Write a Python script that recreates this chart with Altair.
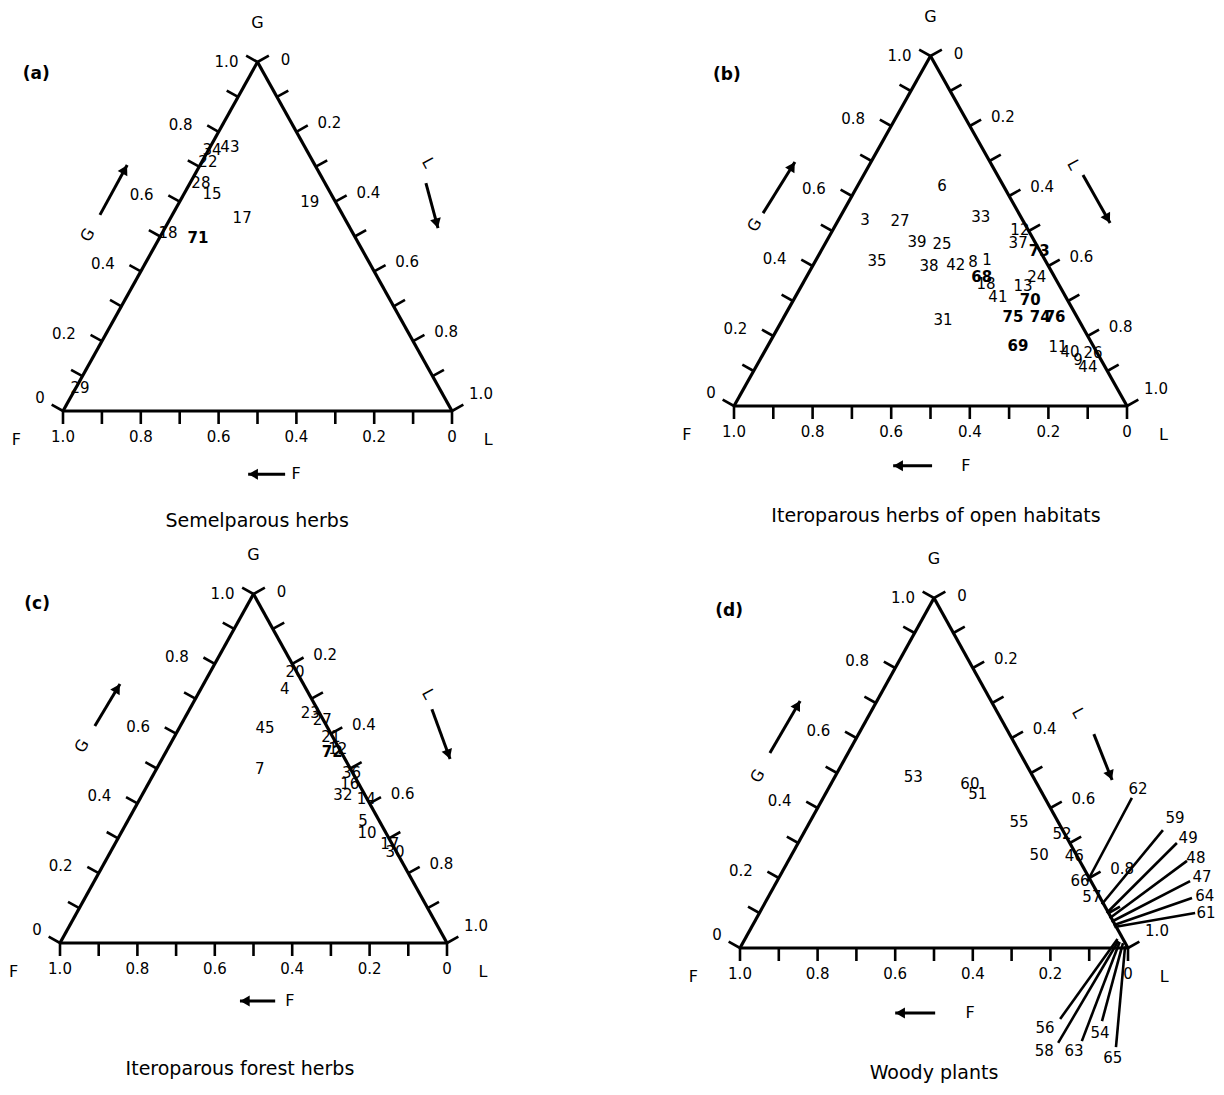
import math
import altair as alt
import pandas as pd

FONT = "DejaVu Sans"
INK = "black"

# ---------------- data (ternary values: G, L; F = 1 - G - L) ----------------
tick_values = [0.0, 0.2, 0.4, 0.6, 0.8, 1.0]
tick_labels = ["0", "0.2", "0.4", "0.6", "0.8", "1.0"]
minor_ticks = [0.0, 0.1, 0.2, 0.3, 0.4, 0.5, 0.6, 0.7, 0.8, 0.9, 1.0]

panel_tags = ["(a)", "(b)", "(c)", "(d)"]
panel_titles = ["Semelparous herbs", "Iteroparous herbs of open habitats",
                "Iteroparous forest herbs", "Woody plants"]

a_labels = ["43", "34", "22", "28", "15", "17", "19", "18", "71", "29"]
a_G = [0.756, 0.748, 0.713, 0.653, 0.622, 0.553, 0.599, 0.510, 0.496, 0.066]
a_L = [0.051, 0.009, 0.016, 0.028, 0.072, 0.184, 0.335, 0.015, 0.099, 0.011]
a_bold = ["71"]

b_labels = ["6", "3", "27", "33", "12", "37", "73", "39", "25", "35", "38", "42", "8", "1",
            "68", "18", "24", "13", "41", "70", "74", "76", "75", "31", "69", "11", "40",
            "26", "9", "44"]
b_G = [0.629, 0.531, 0.529, 0.540, 0.503, 0.466, 0.443, 0.469, 0.463, 0.414, 0.400, 0.403,
       0.411, 0.417, 0.369, 0.349, 0.369, 0.343, 0.311, 0.303, 0.254, 0.254, 0.254, 0.246,
       0.171, 0.169, 0.154, 0.151, 0.131, 0.111]
b_L = [0.215, 0.068, 0.158, 0.358, 0.476, 0.490, 0.555, 0.231, 0.298, 0.157, 0.296, 0.363,
       0.403, 0.435, 0.446, 0.467, 0.586, 0.564, 0.516, 0.602, 0.652, 0.690, 0.583, 0.409,
       0.637, 0.740, 0.778, 0.838, 0.810, 0.845]
b_bold = ["73", "68", "70", "74", "76", "75", "69"]

c_labels = ["20", "4", "23", "27", "21", "72", "12", "45", "7", "36", "16", "32", "14",
            "5", "10", "30", "17"]
c_G = [0.777, 0.728, 0.659, 0.639, 0.590, 0.547, 0.556, 0.616, 0.499, 0.487, 0.456, 0.424,
       0.413, 0.350, 0.315, 0.261, 0.284]
c_L = [0.219, 0.217, 0.317, 0.358, 0.405, 0.430, 0.440, 0.222, 0.267, 0.510, 0.521, 0.519,
       0.585, 0.608, 0.636, 0.735, 0.710]
c_bold = ["72"]

d_labels = ["53", "60", "51", "55", "52", "50", "46", "66", "57"]
d_G = [0.489, 0.469, 0.440, 0.360, 0.326, 0.266, 0.263, 0.191, 0.146]
d_L = [0.202, 0.358, 0.393, 0.539, 0.667, 0.638, 0.730, 0.781, 0.834]
d_bold = []

# points of panel (d) labelled through leader lines
d_lead_labels = ["62", "59", "49", "48", "47", "64", "61", "56", "58", "63", "54", "65"]
d_lead_G = [0.190, 0.125, 0.100, 0.085, 0.075, 0.065, 0.060, 0.026, 0.020, 0.017, 0.014, 0.005]
d_lead_L = [0.800, 0.870, 0.895, 0.910, 0.920, 0.930, 0.935, 0.960, 0.965, 0.970, 0.980, 0.990]

# ---------------- layout (panel units, not data) ----------------
d_lead_anchor = [(1.010, 0.429), (1.090, 0.337), (1.126, 0.300), (1.152, 0.249),
                 (1.160, 0.191), (1.165, 0.143), (1.173, 0.100), (0.825, -0.203),
                 (0.820, -0.271), (0.881, -0.266), (0.933, -0.209), (0.969, -0.283)]
d_lead_text = [(1.026, 0.454), (1.121, 0.371), (1.155, 0.314), (1.175, 0.257),
               (1.191, 0.203), (1.198, 0.149), (1.201, 0.100), (0.786, -0.229),
               (0.784, -0.294), (0.861, -0.294), (0.928, -0.243), (0.961, -0.314)]

GEO = {
    "a": dict(fx=55, fy=403, uw=389, uh=349, pw=600, ph=522),
    "b": dict(fx=126, fy=398, uw=393, uh=350, pw=608, ph=522),
    "c": dict(fx=52, fy=412, uw=387, uh=349, pw=600, ph=550),
    "d": dict(fx=132, fy=417, uw=388, uh=350, pw=608, ph=550),
}
DECOR = {
    "a": dict(tag=(-0.069, 0.966), title=(0.499, -0.315),
              glab=(0.064, 0.504), garr=((0.095, 0.562), (0.165, 0.705)),
              llab=(0.938, 0.711), larr=((0.933, 0.653), (0.964, 0.524)),
              farr=(0.476, 0.571, -0.181), flab=(0.599, -0.181)),
    "b": dict(tag=(-0.018, 0.946), title=(0.514, -0.314),
              glab=(0.053, 0.517), garr=((0.074, 0.551), (0.155, 0.697)),
              llab=(0.863, 0.689), larr=((0.888, 0.660), (0.957, 0.523)),
              farr=(0.405, 0.504, -0.171), flab=(0.590, -0.171)),
    "c": dict(tag=(-0.059, 0.971), title=(0.465, -0.362),
              glab=(0.057, 0.564), garr=((0.090, 0.622), (0.155, 0.742)),
              llab=(0.951, 0.713), larr=((0.961, 0.670), (1.008, 0.527)),
              farr=(0.465, 0.556, -0.166), flab=(0.594, -0.166)),
    "d": dict(tag=(-0.028, 0.963), title=(0.500, -0.356),
              glab=(0.046, 0.491), garr=((0.077, 0.557), (0.155, 0.706)),
              llab=(0.871, 0.671), larr=((0.912, 0.611), (0.959, 0.480)),
              farr=(0.400, 0.503, -0.186), flab=(0.593, -0.186)),
}
TICK = 13  # px


def tern_xy(G, L):
    return L + G / 2.0, G


def build_panel(key, idx, labels, G, L, bold, lead=None):
    g = GEO[key]
    dc = DECOR[key]
    fx, fy, uw, uh, pw, ph = g["fx"], g["fy"], g["uw"], g["uh"], g["pw"], g["ph"]
    xs = alt.Scale(domain=[-fx / uw, (pw - fx) / uw], nice=False, zero=False)
    ys = alt.Scale(domain=[(fy - ph) / uh, fy / uh], nice=False, zero=False)

    def pos():
        return dict(x=alt.X("x:Q", scale=xs, axis=None), y=alt.Y("y:Q", scale=ys, axis=None))

    def seg():
        return dict(x=alt.X("x:Q", scale=xs, axis=None), y=alt.Y("y:Q", scale=ys, axis=None),
                    x2=alt.X2("x2"), y2=alt.Y2("y2"))

    def px2u(dx, dy):
        return dx / uw, -dy / uh

    vF, vL, vG = tern_xy(0, 0), tern_xy(0, 1), tern_xy(1, 0)
    edges = pd.DataFrame([
        dict(x=vF[0], y=vF[1], x2=vL[0], y2=vL[1]),
        dict(x=vL[0], y=vL[1], x2=vG[0], y2=vG[1]),
        dict(x=vG[0], y=vG[1], x2=vF[0], y2=vF[1]),
    ])

    nl = math.hypot(uh, 0.5 * uw)
    left_dir = px2u(-uh / nl * TICK, -0.5 * uw / nl * TICK)
    right_dir = px2u(uh / nl * TICK, -0.5 * uw / nl * TICK)
    bot_dir = px2u(0, TICK)
    trows = []
    for v in minor_ticks:
        bx, by = tern_xy(0, 1 - v)
        trows.append(dict(x=bx, y=by, x2=bx + bot_dir[0], y2=by + bot_dir[1]))
        lx, ly = tern_xy(v, 0)
        trows.append(dict(x=lx, y=ly, x2=lx + left_dir[0], y2=ly + left_dir[1]))
        rx, ry = tern_xy(1 - v, v)
        trows.append(dict(x=rx, y=ry, x2=rx + right_dir[0], y2=ry + right_dir[1]))
    ticks = pd.DataFrame(trows)

    lrows = []
    for v, lab in zip(tick_values, tick_labels):
        bx, by = tern_xy(0, 1 - v)
        o = px2u(0, 26)
        lrows.append(dict(x=bx + o[0], y=by + o[1], t=lab))
        lx, ly = tern_xy(v, 0)
        off = (-38, -7)
        if lab == "0":
            off = (-23, -13)
        elif lab == "1.0":
            off = (-31, 0)
        o = px2u(*off)
        lrows.append(dict(x=lx + o[0], y=ly + o[1], t=lab))
        rx, ry = tern_xy(1 - v, v)
        off = (33, -9)
        if lab == "0":
            off = (28, -2)
        elif lab == "1.0":
            off = (29, -17)
        o = px2u(*off)
        lrows.append(dict(x=rx + o[0], y=ry + o[1], t=lab))
    tlabels = pd.DataFrame(lrows)

    prow = []
    for lab, gv, lv in zip(labels, G, L):
        x, y = tern_xy(gv, lv)
        prow.append(dict(x=x, y=y, t=lab, F=round(1 - gv - lv, 3), b=lab in bold))
    pts = pd.DataFrame(prow)
    pts_n = pts[~pts["b"]]
    pts_b = pts[pts["b"]]

    txt = pd.DataFrame([
        dict(x=0.5, y=1.112, t="G"),
        dict(x=-0.12, y=-0.083, t="F"),
        dict(x=1.093, y=-0.083, t="L"),
        dict(x=dc["flab"][0], y=dc["flab"][1], t="F"),
    ])
    title_df = pd.DataFrame([dict(x=dc["title"][0], y=dc["title"][1], t=panel_titles[idx])])
    tag_df = pd.DataFrame([dict(x=dc["tag"][0], y=dc["tag"][1], t=panel_tags[idx])])
    glab_df = pd.DataFrame([dict(x=dc["glab"][0], y=dc["glab"][1], t="G")])
    llab_df = pd.DataFrame([dict(x=dc["llab"][0], y=dc["llab"][1], t="L")])

    (gs, ge), (ls, le) = dc["garr"], dc["larr"]
    f0, f1, fyy = dc["farr"]
    arr_lines = pd.DataFrame([
        dict(x=gs[0], y=gs[1], x2=ge[0], y2=ge[1]),
        dict(x=ls[0], y=ls[1], x2=le[0], y2=le[1]),
        dict(x=f1, y=fyy, x2=f0, y2=fyy),
    ])

    def head_angle(s, e):
        dxp = (e[0] - s[0]) * uw
        dyp = -(e[1] - s[1]) * uh
        return (math.degrees(math.atan2(dxp, -dyp)) + 360) % 360

    heads = []
    for s, e in [(gs, ge), (ls, le), ((f1, fyy), (f0, fyy))]:
        a = head_angle(s, e)
        ux = (e[0] - s[0]) * uw
        uy = (e[1] - s[1]) * uh
        n = math.hypot(ux, uy)
        cx = e[0] - (ux / n) * 5 / uw
        cy = e[1] - (uy / n) * 5 / uh
        heads.append(dict(x=cx, y=cy, a=a))

    txt_kw = dict(font=FONT, color=INK, align="center", baseline="middle")
    layers = [
        alt.Chart(edges).mark_rule(color=INK, strokeWidth=3.2).encode(**seg()),
        alt.Chart(ticks).mark_rule(color=INK, strokeWidth=2.6).encode(**seg()),
        alt.Chart(tlabels).mark_text(fontSize=15, **txt_kw).encode(text="t:N", **pos()),
        alt.Chart(pts_n).mark_text(fontSize=15, **txt_kw).encode(text="t:N", **pos()),
        alt.Chart(txt).mark_text(fontSize=16, **txt_kw).encode(text="t:N", **pos()),
        alt.Chart(title_df).mark_text(fontSize=19, **txt_kw).encode(text="t:N", **pos()),
        alt.Chart(tag_df).mark_text(fontSize=17, fontWeight="bold", **txt_kw)
        .encode(text="t:N", **pos()),
        alt.Chart(glab_df).mark_text(fontSize=16, angle=300, **txt_kw)
        .encode(text="t:N", **pos()),
        alt.Chart(llab_df).mark_text(fontSize=16, angle=62, **txt_kw)
        .encode(text="t:N", **pos()),
        alt.Chart(arr_lines).mark_rule(color=INK, strokeWidth=3).encode(**seg()),
    ]
    for h in heads:
        layers.append(
            alt.Chart(pd.DataFrame([h])).mark_point(shape="triangle-up", filled=True, size=120,
                                                   color=INK, opacity=1, strokeWidth=0,
                                                   angle=round(h["a"], 1)).encode(**pos())
        )
    if len(pts_b):
        layers.append(alt.Chart(pts_b).mark_text(fontSize=15, fontWeight="bold", **txt_kw)
                      .encode(text="t:N", **pos()))
    if lead is not None:
        llabels, lG, lL, anchors, texts = lead
        lrows2, trows2 = [], []
        for lab, gv, lv, an, tx in zip(llabels, lG, lL, anchors, texts):
            x, y = tern_xy(gv, lv)
            lrows2.append(dict(x=x, y=y, x2=an[0], y2=an[1]))
            trows2.append(dict(x=tx[0], y=tx[1], t=lab))
        layers.append(alt.Chart(pd.DataFrame(lrows2)).mark_rule(color=INK, strokeWidth=2.6)
                      .encode(**seg()))
        layers.append(alt.Chart(pd.DataFrame(trows2)).mark_text(fontSize=15, **txt_kw)
                      .encode(text="t:N", **pos()))
    return alt.layer(*layers).properties(width=pw, height=ph)


pa = build_panel("a", 0, a_labels, a_G, a_L, a_bold)
pb = build_panel("b", 1, b_labels, b_G, b_L, b_bold)
pc = build_panel("c", 2, c_labels, c_G, c_L, c_bold)
pd_ = build_panel("d", 3, d_labels, d_G, d_L, d_bold,
                  lead=(d_lead_labels, d_lead_G, d_lead_L, d_lead_anchor, d_lead_text))

row1 = alt.hconcat(pa, pb, spacing=0)
row2 = alt.hconcat(pc, pd_, spacing=0)
chart = (alt.vconcat(row1, row2, spacing=0)
         .properties(padding=0, background="white")
         .configure_view(stroke=None))

chart.save("out.html", embed_options={"renderer": "svg", "actions": False})
